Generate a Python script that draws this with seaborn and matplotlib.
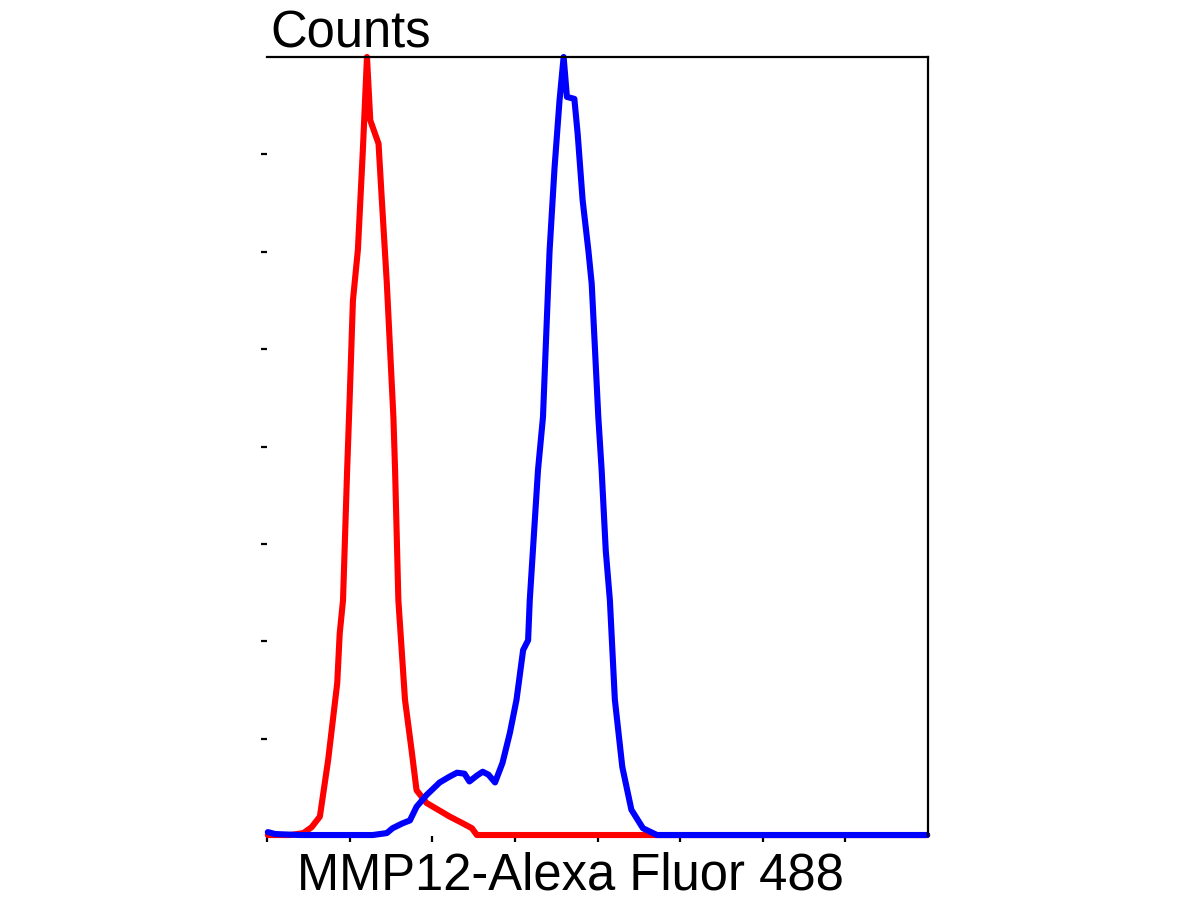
import matplotlib
matplotlib.use("Agg")
import matplotlib.pyplot as plt
import seaborn as sns
import pandas as pd

# Isotype control (red) histogram
red_x = [0.01, 0.28, 0.44, 0.54, 0.64, 0.74, 0.85, 0.88, 0.92, 0.97, 1.00, 1.04, 1.10, 1.16, 1.21,
         1.25, 1.35, 1.39, 1.45, 1.49, 1.53, 1.55, 1.59, 1.67, 1.75, 1.81, 1.93, 2.07, 2.21, 2.37,
         2.48, 2.54, 4.63, 7.99]
red_y = [0.01, 0.01, 0.03, 0.09, 0.20, 0.78, 1.57, 2.08, 2.42, 3.76, 4.48, 5.50, 6.02, 7.04, 8.00,
         7.35, 7.11, 6.53, 5.68, 4.99, 4.30, 3.76, 2.42, 1.40, 0.88, 0.47, 0.34, 0.27, 0.20, 0.13,
         0.08, 0.01, 0.01, 0.01]

# MMP12 stained sample (blue) histogram
blue_x = [0.01, 0.10, 0.40, 0.88, 1.28, 1.45, 1.52, 1.64, 1.73, 1.81, 1.93, 2.09, 2.21, 2.30, 2.39,
          2.45, 2.54, 2.61, 2.68, 2.76, 2.85, 2.94, 3.02, 3.10, 3.16, 3.18, 3.28, 3.34, 3.38, 3.42,
          3.48, 3.54, 3.59, 3.63, 3.72, 3.76, 3.82, 3.89, 3.93, 3.97, 4.01, 4.05, 4.10, 4.15, 4.18,
          4.21, 4.30, 4.41, 4.55, 4.72, 7.99]
blue_y = [0.04, 0.02, 0.01, 0.01, 0.01, 0.03, 0.08, 0.13, 0.16, 0.30, 0.42, 0.55, 0.61, 0.65, 0.64,
          0.56, 0.62, 0.66, 0.63, 0.55, 0.75, 1.06, 1.40, 1.91, 2.01, 2.42, 3.76, 4.30, 5.16, 6.01,
          6.86, 7.55, 8.00, 7.59, 7.57, 7.21, 6.53, 6.01, 5.67, 4.99, 4.30, 3.76, 2.93, 2.42, 1.91,
          1.40, 0.71, 0.27, 0.08, 0.01, 0.01]

x_ticks = [0, 1, 2, 3, 4, 5, 6, 7]
y_ticks = [1, 2, 3, 4, 5, 6, 7]
x_label = "MMP12-Alexa Fluor 488"
y_label = "Counts"

sns.set_style("white")
plt.rcParams['font.family'] = ['Liberation Sans', 'DejaVu Sans']

fig = plt.figure(figsize=(12, 9), dpi=100)
ax = fig.add_axes([267 / 1200, 64 / 900, (928 - 267) / 1200, (836 - 57) / 900])

red_df = pd.DataFrame({"x": red_x, "y": red_y})
blue_df = pd.DataFrame({"x": blue_x, "y": blue_y})

sns.lineplot(data=red_df, x="x", y="y", ax=ax, color="#ff0000", linewidth=4.4,
             sort=False, estimator=None, clip_on=False)
sns.lineplot(data=blue_df, x="x", y="y", ax=ax, color="#0000ff", linewidth=4.4,
             sort=False, estimator=None, clip_on=False)

ax.set_xlim(0, 8)
ax.set_ylim(0, 8)
ax.set_xticks(x_ticks)
ax.set_yticks(y_ticks)
ax.set_xticklabels([])
ax.set_yticklabels([])
ax.tick_params(axis="both", direction="out", length=4.5, width=1.6, color="black",
               bottom=True, left=True)
ax.set_xlabel("")
ax.set_ylabel("")

for side in ["top", "right"]:
    ax.spines[side].set_visible(True)
    ax.spines[side].set_color("black")
    ax.spines[side].set_linewidth(1.6)
for side in ["left", "bottom"]:
    ax.spines[side].set_visible(False)

fig.text(270 / 1200, 1 - 48 / 900, y_label, fontsize=36.5, ha="left", va="baseline", color="black")
fig.text(570 / 1200, 1 - 889 / 900, x_label, fontsize=36.5, ha="center", va="baseline", color="black")

fig.savefig("out.png", dpi=100, facecolor="white")
